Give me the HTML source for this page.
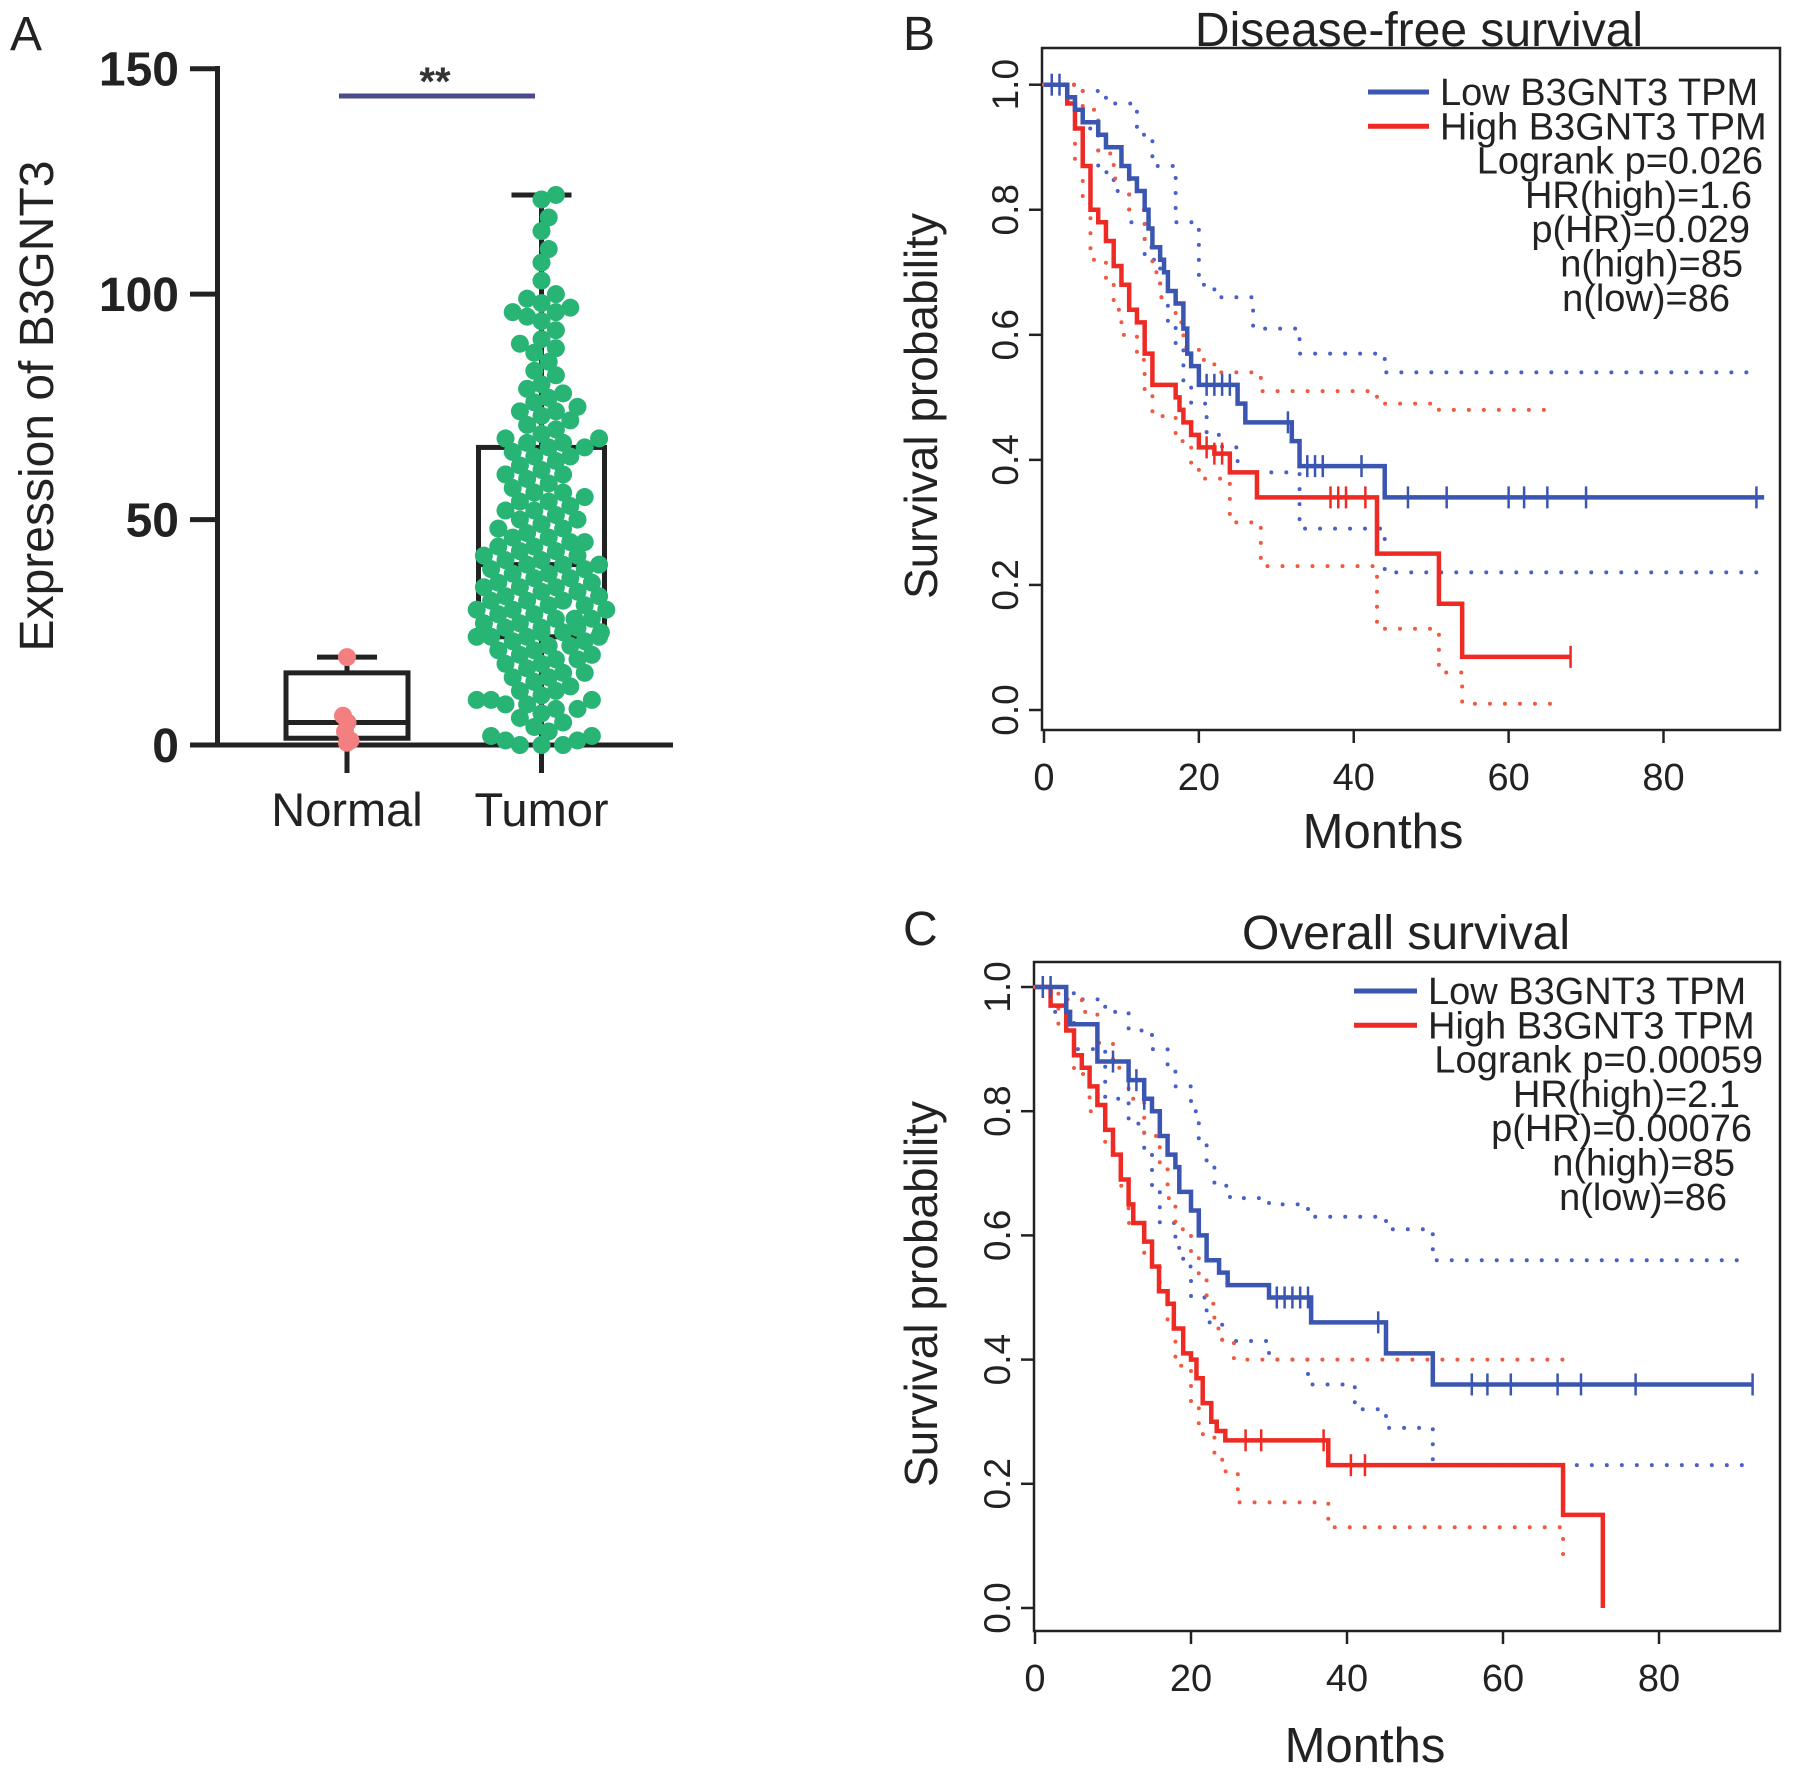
<!DOCTYPE html>
<html><head><meta charset="utf-8"><style>
html,body{margin:0;padding:0;background:#fff;}
svg{display:block;font-family:"Liberation Sans",Arial,sans-serif;}
</style></head><body>
<svg id="fig" width="1795" height="1775" viewBox="0 0 1795 1775">
<g id="pa"></g>
<g id="pb"></g>
<g id="pc"></g>
</svg>
<script>
// ---------- Panel A data ----------
const groupNames = ["Normal","Tumor"];
const aTicks = [0,50,100,150];
const normalVals = [19.5,6.5,5,3,1,0.5];
const tumorVals = [122,121,117,114,110,107,103,100,99,98,97,96,96,95,94,92,90,89,88,87,85,83,82,80,79,78,77,76,75,74,74,73,72,71,70,69,68,68,67,67,66,66,
65,64,64,63,62,61,60,60,59,58,57,56,56,55,54,54,53,52,52,51,50,50,49,48,48,47,46,46,45,45,44,44,43,43,42,42,41,41,40,40,40,39,
39,38,38,37,37,36,36,35,35,35,34,34,33,33,32,32,32,31,31,30,30,30,29,29,28,28,28,27,27,26,26,26,25,25,25,24,24,24,24,23,23,
22,22,21,21,20,20,19,19,18,18,17,16,16,15,15,14,13,12,12,11,10,10,10,9,9,8,8,7,6,5,4,3,2,2,1,1,0,0,0];
const normalBox = {min:0,q1:1.5,med:5,q3:16,max:19.5};
const tumorBox = {min:0,q1:24,med:40,q3:66,max:122};

// ---------- Panel B data (Disease-free) ----------
const bLowT = [3,4,5,7,8,10,11,12,13,13.5,14,15,15.5,16,17,18,18.5,19,20,25,26,32,33,44];
const bLowS = [0.98,0.96,0.94,0.92,0.90,0.87,0.85,0.83,0.80,0.77,0.74,0.72,0.70,0.67,0.65,0.61,0.57,0.55,0.52,0.49,0.46,0.43,0.39,0.34];
const bLowEnd = 93;
const bLowCens = [1,2,21,22,23,24,31.5,34,35,36,41,47,52,60,62,65,70,92];
const bHighT = [3,4,5,6,7,8,9,10,11,12,13,14,17,17.5,18,19,20,22,24,27.5,43,51,54];
const bHighS = [0.97,0.93,0.87,0.80,0.78,0.75,0.71,0.68,0.64,0.62,0.57,0.52,0.50,0.48,0.46,0.44,0.42,0.41,0.38,0.34,0.25,0.17,0.085];
const bHighEnd = 68;
const bHighCens = [21,22,23,37,38,39,41.5,68];
const bLowUpT = [5,8,12,14,17,20,22,27,33,44]; const bLowUpS = [0.99,0.97,0.92,0.87,0.78,0.68,0.66,0.61,0.57,0.54];
const bLowLoT = [4,7,9,11,13,15,16,17,18,19,21,23,25,33,44]; const bLowLoS = [0.93,0.86,0.83,0.78,0.72,0.66,0.62,0.58,0.52,0.49,0.44,0.42,0.38,0.29,0.22];
const bLowCiEnd = 92;
const bHighUpT = [5,7,9,11,13,14,15,17,18,20,22,28,43,51]; const bHighUpS = [0.96,0.89,0.85,0.80,0.74,0.70,0.66,0.62,0.58,0.56,0.54,0.51,0.49,0.48];
const bHighLoT = [4,5,6,8,9,10,12,13,14,17,19,20,24,28,43,51,54]; const bHighLoS = [0.88,0.81,0.72,0.68,0.64,0.60,0.56,0.51,0.47,0.43,0.39,0.37,0.30,0.23,0.13,0.06,0.01];
const bHighCiEnd = 66;
const bStats = ["Logrank p=0.026","HR(high)=1.6","p(HR)=0.029","n(high)=85","n(low)=86"];

// ---------- Panel C data (Overall) ----------
const cLowT = [4,4.5,8,12,14,15,16,17,18,18.5,20,21,22,23.6,24.7,30,35.4,45,51];
const cLowS = [0.96,0.94,0.88,0.85,0.82,0.80,0.76,0.73,0.71,0.67,0.64,0.60,0.56,0.54,0.52,0.50,0.46,0.41,0.36];
const cLowEnd = 92;
const cLowCens = [1,2,10,12,13,14,31,32,33,34,35,44,56,58,61,67,70,77,92];
const cHighT = [2,4,5,6,7,8,9,10,11,12,12.6,14,15,15.9,17,17.8,19,20,20.7,21.5,22.6,23.3,24.4,37.6,67.7,72.8];
const cHighS = [0.97,0.93,0.89,0.87,0.84,0.81,0.77,0.73,0.69,0.65,0.62,0.59,0.55,0.51,0.49,0.45,0.41,0.40,0.37,0.33,0.30,0.285,0.27,0.23,0.15,0.0];
const cHighEnd = 72.8;
const cHighCens = [27,29,37,40.5,42.3];
const cLowUpT = [4,6,9,12,15,17,18,20,21,22,23,25,30,35,45,51]; const cLowUpS = [0.99,0.98,0.96,0.93,0.90,0.87,0.84,0.80,0.75,0.71,0.68,0.66,0.65,0.63,0.61,0.56];
const cLowLoT = [2,5,9,12,14,15,16,18,19,20,22,24,30,35,41,45,51]; const cLowLoS = [0.96,0.90,0.82,0.78,0.74,0.68,0.62,0.58,0.55,0.50,0.46,0.43,0.40,0.36,0.32,0.29,0.23];
const cLowCiEnd = 91;
const cHighUpT = [3,4,6,8,10,12,14,16,17,18,20,21,22,23,24,25.5]; const cHighUpS = [1.0,0.98,0.96,0.91,0.87,0.82,0.76,0.71,0.66,0.61,0.57,0.53,0.49,0.45,0.43,0.40];
const cHighLoT = [3,5,7,9,11,12,14,16,17,18,20,21,23,24,26,37.6,67.7]; const cHighLoS = [0.93,0.86,0.80,0.74,0.68,0.62,0.56,0.51,0.45,0.39,0.33,0.28,0.25,0.22,0.17,0.13,0.07];
const cHighCiEnd = 67.7;
const cStats = ["Logrank p=0.00059","HR(high)=2.1","p(HR)=0.00076","n(high)=85","n(low)=86"];
const kmXTicks = [0,20,40,60,80];
const kmYTicks = [0,0.2,0.4,0.6,0.8,1.0];

const NS="http://www.w3.org/2000/svg";
function mk(parent,tag,attrs,text){const e=document.createElementNS(NS,tag);for(const k in attrs)e.setAttribute(k,attrs[k]);if(text!==undefined)e.textContent=text;parent.appendChild(e);return e;}

// ================= Panel A =================
(function(){
const g=document.getElementById('pa');
const y=v=>745-(v/150)*(745-68.7);
const xc=[347,541.5];
let t;
t=mk(g,'text',{x:10,y:50,'font-size':48,fill:'#222'},'A');

let ax=mk(g,'line',{x1:217.5,y1:66,x2:217.5,y2:747,stroke:'#222','stroke-width':5});

ax=mk(g,'line',{x1:190,y1:745,x2:673,y2:745,stroke:'#222','stroke-width':5});

aTicks.forEach(v=>{
 let l=mk(g,'line',{x1:190,y1:y(v),x2:217,y2:y(v),stroke:'#222','stroke-width':5});
 
 let tx=mk(g,'text',{x:179,y:y(v)+17,'font-size':48,'font-weight':'bold','text-anchor':'end',fill:'#222'},String(v));
 
});
groupNames.forEach((n,i)=>{
 let l=mk(g,'line',{x1:xc[i],y1:745,x2:xc[i],y2:773,stroke:'#222','stroke-width':5});
 
 let tx=mk(g,'text',{x:xc[i],y:826,'font-size':47,'text-anchor':'middle',fill:'#222'},n);
 
});
t=mk(g,'text',{x:0,y:0,'font-size':48,'text-anchor':'middle',fill:'#222',transform:'translate(53,406) rotate(-90)'},'Expression of B3GNT3');

let sb=mk(g,'line',{x1:339,y1:96,x2:535,y2:96,stroke:'#4a4a8c','stroke-width':5});

t=mk(g,'text',{x:435,y:95,'font-size':40,'font-weight':'bold','text-anchor':'middle',fill:'#333'},'**');

function box(b,cx,hw,name){
 const bg=mk(g,'g',{});
 
 mk(bg,'line',{x1:cx,y1:y(b.max),x2:cx,y2:y(b.q3),stroke:'#222','stroke-width':5});
 mk(bg,'line',{x1:cx,y1:y(b.q1),x2:cx,y2:y(b.min),stroke:'#222','stroke-width':5});
 mk(bg,'line',{x1:cx-30,y1:y(b.max),x2:cx+30,y2:y(b.max),stroke:'#222','stroke-width':5});
 mk(bg,'rect',{x:cx-hw,y:y(b.q3),width:2*hw,height:y(b.q1)-y(b.q3),fill:'none',stroke:'#222','stroke-width':5});
 mk(bg,'line',{x1:cx-hw,y1:y(b.med),x2:cx+hw,y2:y(b.med),stroke:'#222','stroke-width':5});
}
function swarm(vals,cx,hw,color,name){
 const r=9, placed=[];
 const sorted=vals.slice().sort((a,b)=>a-b);
 const dg=mk(g,'g',{});
 
 sorted.forEach((v,idx)=>{
  const py=y(v); let px=cx;
  for(let k=0;k<60;k++){
   const off=(k%2?1:-1)*Math.ceil(k/2)*r*0.8;
   const cand=cx+off;
   if(Math.abs(off)>hw){px=cx+(idx%2?1:-1)*hw*((idx*37)%10)/10;break;}
   if(placed.every(p=>Math.hypot(p[0]-cand,p[1]-py)>=r*1.6)){px=cand;break;}
  }
  placed.push([px,py]);
  const c=mk(dg,'circle',{cx:px,cy:py,r:r,fill:color});
  
  
 });
}
box(normalBox,347,61,'normal-box');
box(tumorBox,541.5,63,'tumor-box');
swarm(tumorVals,541.5,66,'#27b474','tumor-points');
swarm(normalVals,347,5,'#f28080','normal-points');
})();

// ================= KM panels =================
function km(gid,o){
 const g=document.getElementById(gid);
 const x=t=>o.x0+t*(o.x80-o.x0)/80;
 const y=s=>o.y0-s*(o.y0-o.y1);
 let t=mk(g,'text',{x:o.lblX,y:o.lblY,'font-size':48,fill:'#222'},o.letter);
 
 t=mk(g,'text',{x:o.titleX,y:o.titleY,'font-size':48,'text-anchor':'middle',fill:'#222'},o.title);
 
 let fr=mk(g,'rect',{x:o.L,y:o.T,width:o.R-o.L,height:o.B-o.T,fill:'none',stroke:'#222','stroke-width':2.5});
 
 kmXTicks.forEach(v=>{
  let l=mk(g,'line',{x1:x(v),y1:o.B,x2:x(v),y2:o.B+13,stroke:'#222','stroke-width':2.5});
  
  let tx=mk(g,'text',{x:x(v),y:o.B+60,'font-size':38,'text-anchor':'middle',fill:'#222'},String(v));
  
 });
 kmYTicks.forEach(v=>{
  let l=mk(g,'line',{x1:o.L-13,y1:y(v),x2:o.L,y2:y(v),stroke:'#222','stroke-width':2.5});
  
  let tx=mk(g,'text',{x:0,y:0,'font-size':37,'text-anchor':'middle',fill:'#222',transform:`translate(${o.L-24},${y(v)}) rotate(-90)`},v.toFixed(1));
  
 });
 t=mk(g,'text',{x:o.monthsX,y:o.monthsY,'font-size':49,'text-anchor':'middle',fill:'#222'},'Months');
 
 t=mk(g,'text',{x:0,y:0,'font-size':46,'text-anchor':'middle',fill:'#222',transform:`translate(${o.ylabX},${o.ylabY}) rotate(-90)`},'Survival probability');
 
 function stepPath(T,S,end,start){
  let d=`M${x(0)},${y(start)}`;
  T.forEach((tt,i)=>{d+=`H${x(tt)}V${y(S[i])}`;});
  d+=`H${x(end)}`;return d;
 }
 function ci(T,S,end,color,name){
  const p=mk(g,'path',{d:stepPath(T,S,end,1),fill:'none',stroke:color,'stroke-width':4,'stroke-linecap':'round','stroke-dasharray':'0 15'});
  
 }
 function sv(T,S,end,cens,color,name){
  const p=mk(g,'path',{d:stepPath(T,S,end,1),fill:'none',stroke:color,'stroke-width':4.5});
  
  cens.forEach(c=>{
   let s=1;T.forEach((tt,i)=>{if(tt<=c)s=S[i];});
   const m=mk(g,'line',{x1:x(c),y1:y(s)-11,x2:x(c),y2:y(s)+11,stroke:color,'stroke-width':2.5});
   
  });
 }
 const BLUE='#3a56b0',RED='#ee2a24';
 ci(o.d.luT,o.d.luS,o.d.lce,'#4a60c8','low-ci-upper');
 ci(o.d.llT,o.d.llS,o.d.lce,'#4a60c8','low-ci-lower');
 ci(o.d.huT,o.d.huS,o.d.hce,'#f05a40','high-ci-upper');
 ci(o.d.hlT,o.d.hlS,o.d.hce,'#f05a40','high-ci-lower');
 sv(o.d.hT,o.d.hS,o.d.hEnd,o.d.hC,RED,'high-survival-curve');
 sv(o.d.lT,o.d.lS,o.d.lEnd,o.d.lC,BLUE,'low-survival-curve');
 const lg=mk(g,'g',{});
 
 [[BLUE,'Low B3GNT3 TPM'],[RED,'High B3GNT3 TPM']].forEach((e,i)=>{
  const ly=o.legY+i*o.legDy;
  const eg=mk(lg,'g',{});
  
  mk(eg,'line',{x1:o.legX1,y1:ly,x2:o.legX2,y2:ly,stroke:e[0],'stroke-width':5});
  mk(eg,'text',{x:o.legTX,y:ly+13,'font-size':38,fill:'#222'},e[1]);
 });
 o.stats.forEach((s,i)=>{
  const st=mk(lg,'text',{x:o.statX[i],y:o.legY+(i+2)*o.legDy+13,'font-size':38,'text-anchor':'end',fill:'#222'},s);
  
 });
}
km('pb',{letter:'B',lblX:903,lblY:50,title:'Disease-free survival',titleX:1419,titleY:46,
 L:1042,R:1780,T:48,B:730,x0:1044,x80:1663.5,y0:710,y1:84.7,monthsX:1383,monthsY:848,ylabX:937,ylabY:406,
 legX1:1368,legX2:1429,legTX:1440,legY:92,legDy:34.3,statX:[1763,1752,1750,1743,1730],stats:bStats,
 d:{lT:bLowT,lS:bLowS,lEnd:bLowEnd,lC:bLowCens,hT:bHighT,hS:bHighS,hEnd:bHighEnd,hC:bHighCens,
    luT:bLowUpT,luS:bLowUpS,llT:bLowLoT,llS:bLowLoS,lce:bLowCiEnd,huT:bHighUpT,huS:bHighUpS,hlT:bHighLoT,hlS:bHighLoS,hce:bHighCiEnd}});
km('pc',{letter:'C',lblX:903,lblY:945,title:'Overall survival',titleX:1406,titleY:949,
 L:1034,R:1780,T:962,B:1631,x0:1035,x80:1659,y0:1608,y1:987,monthsX:1365,monthsY:1762,ylabX:937,ylabY:1294,
 legX1:1354,legX2:1417,legTX:1428,legY:991,legDy:34.3,statX:[1763,1740,1752,1735,1727],stats:cStats,
 d:{lT:cLowT,lS:cLowS,lEnd:cLowEnd,lC:cLowCens,hT:cHighT,hS:cHighS,hEnd:cHighEnd,hC:cHighCens,
    luT:cLowUpT,luS:cLowUpS,llT:cLowLoT,llS:cLowLoS,lce:cLowCiEnd,huT:cHighUpT,huS:cHighUpS,hlT:cHighLoT,hlS:cHighLoS,hce:cHighCiEnd}});
</script>
</body></html>
